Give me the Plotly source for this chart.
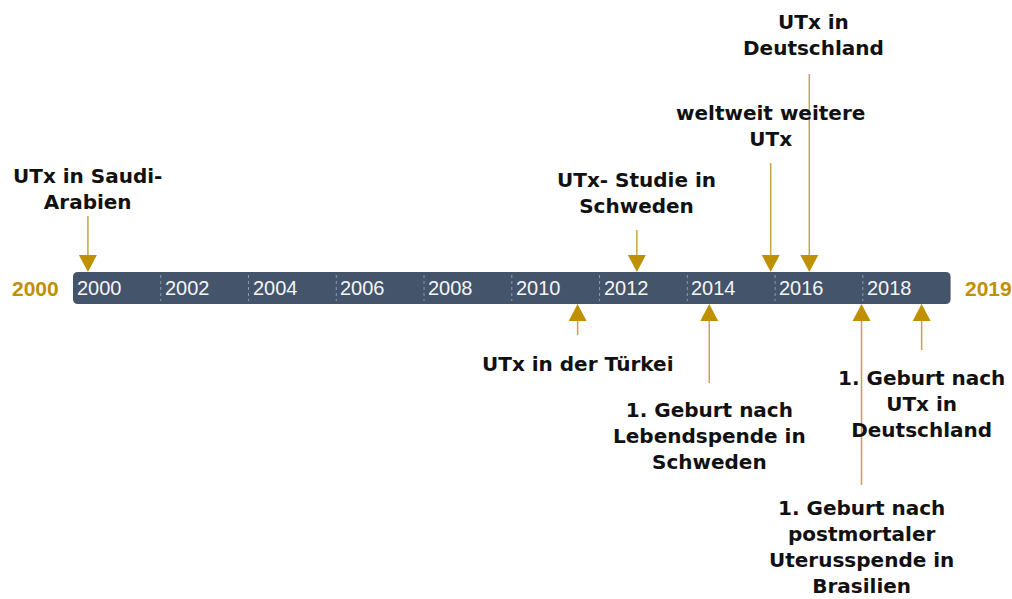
import plotly.graph_objects as go

# ---------------- data ----------------
start_year = 2000
end_year = 2020
end_label = "2019"
tick_years = [2000, 2002, 2004, 2006, 2008, 2010, 2012, 2014, 2016, 2018]
tick_labels = ["2000", "2002", "2004", "2006", "2008", "2010", "2012", "2014", "2016", "2018"]

event_years = [2000.34, 2012.85, 2015.9, 2016.78, 2011.5, 2014.5, 2017.97, 2019.34]
event_labels = [
    "UTx in Saudi-<br>Arabien",
    "UTx- Studie in<br>Schweden",
    "weltweit weitere<br>UTx",
    "UTx in<br>Deutschland",
    "UTx in der Türkei",
    "1. Geburt nach<br>Lebendspende in<br>Schweden",
    "1. Geburt nach<br>postmortaler<br>Uterusspende in<br>Brasilien",
    "1. Geburt nach<br>UTx in<br>Deutschland",
]
event_side = ["above", "above", "above", "above", "below", "below", "below", "below"]

# ---------------- layout / style ----------------
W, H = 1012, 599
PX_PER_YEAR = 43.88
X0_PX = 73.0
BAR_TOP, BAR_BOT = 272, 304
stem_end = [216, 230, 163, 74, 335, 383, 485, 350]      # vertical level where each stem ends
label_mid = [189, 193, 126, 35, 364, 436, 547, 404]     # vertical level of each label block
label_dx = [0, 0, 0, 4, 0, 0, 0, 0]
HEAD_W, HEAD_H = 18, 17

GOLD = "#BF9000"
STEM = "#C9A246"
BAR = "#44546A"

x_lo = start_year - X0_PX / PX_PER_YEAR
x_hi = start_year + (W - X0_PX) / PX_PER_YEAR

shapes = []
annotations = []

# rounded timeline bar
rx = 5 / PX_PER_YEAR
ry = 5
xa, xb = start_year, end_year
path = (f"M {xa+rx},{BAR_TOP} L {xb-rx},{BAR_TOP} Q {xb},{BAR_TOP} {xb},{BAR_TOP+ry} "
        f"L {xb},{BAR_BOT-ry} Q {xb},{BAR_BOT} {xb-rx},{BAR_BOT} "
        f"L {xa+rx},{BAR_BOT} Q {xa},{BAR_BOT} {xa},{BAR_BOT-ry} "
        f"L {xa},{BAR_TOP+ry} Q {xa},{BAR_TOP} {xa+rx},{BAR_TOP} Z")
shapes.append(dict(type="path", path=path, xref="x", yref="y",
                   fillcolor=BAR, line=dict(width=0), layer="below"))

# separators and year labels
for yr, lab in zip(tick_years, tick_labels):
    if yr != start_year:
        shapes.append(dict(type="line", xref="x", yref="y", x0=yr, x1=yr,
                           y0=BAR_TOP + 3, y1=BAR_BOT - 3,
                           line=dict(color="#8E9BB0", width=1, dash="dot")))
    annotations.append(dict(x=yr, y=(BAR_TOP + BAR_BOT) / 2, xref="x", yref="y",
                            text=lab, showarrow=False, xanchor="left", yanchor="middle",
                            xshift=2, font=dict(family="Liberation Sans, Arial", size=20,
                                                color="#F4F5F7")))

# outer year labels
annotations.append(dict(x=start_year, y=(BAR_TOP + BAR_BOT) / 2, xref="x", yref="y",
                        text=f"<b>{start_year}</b>", showarrow=False, xanchor="right",
                        yanchor="middle", xshift=-12,
                        font=dict(family="Liberation Sans, Arial", size=21, color=GOLD)))
annotations.append(dict(x=end_year, y=(BAR_TOP + BAR_BOT) / 2, xref="x", yref="y",
                        text=f"<b>{end_label}</b>", showarrow=False, xanchor="left",
                        yanchor="middle", xshift=12,
                        font=dict(family="Liberation Sans, Arial", size=21, color=GOLD)))

# event arrows + labels
hw = HEAD_W / 2 / PX_PER_YEAR
for yr, lab, side, se, lm, dx in zip(event_years, event_labels, event_side,
                                     stem_end, label_mid, label_dx):
    if side == "above":
        tip = BAR_TOP
        base = tip - HEAD_H
    else:
        tip = BAR_BOT
        base = tip + HEAD_H
    shapes.append(dict(type="line", xref="x", yref="y", x0=yr, x1=yr, y0=se, y1=base,
                       line=dict(color=STEM, width=1.5)))
    shapes.append(dict(type="path", xref="x", yref="y",
                       path=f"M {yr-hw},{base} L {yr+hw},{base} L {yr},{tip} Z",
                       fillcolor=GOLD, line=dict(width=0)))
    annotations.append(dict(x=yr, y=lm, xref="x", yref="y", text=f"<b>{lab}</b>",
                            showarrow=False, xanchor="center", yanchor="middle",
                            align="center", xshift=dx,
                            font=dict(family="DejaVu Sans", size=20, color="#111111")))

fig = go.Figure()
fig.add_trace(go.Scatter(x=[x_lo, x_hi], y=[0, 0], mode="markers",
                         marker=dict(opacity=0), hoverinfo="skip", showlegend=False))
fig.update_layout(
    width=W, height=H,
    margin=dict(l=0, r=0, t=0, b=0),
    paper_bgcolor="white", plot_bgcolor="white",
    xaxis=dict(range=[x_lo, x_hi], visible=False, fixedrange=True),
    yaxis=dict(range=[H, 0], visible=False, fixedrange=True),
    shapes=shapes, annotations=annotations, showlegend=False,
)
fig.write_html(
    "out.html",
    config={"displayModeBar": False},
    post_script="document.body.style.margin='0';document.body.style.overflow='hidden';",
)
